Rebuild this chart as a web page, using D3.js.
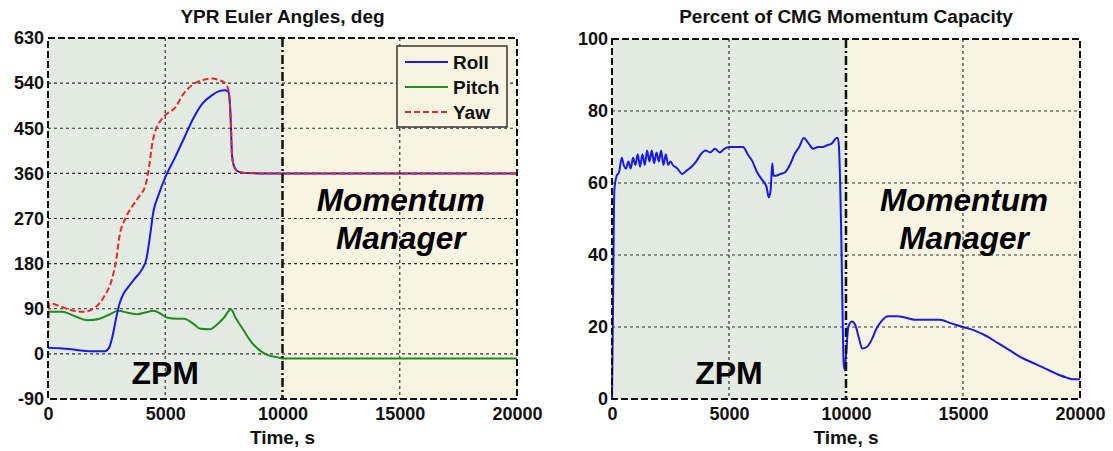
<!DOCTYPE html>
<html>
<head>
<meta charset="utf-8">
<script src="https://cdn.jsdelivr.net/npm/d3@7"></script>
<style>
  html, body { margin: 0; padding: 0; background: #ffffff; }
  svg { display: block; font-family: "Liberation Sans", Arial, sans-serif; }
</style>
</head>
<body>
<svg id="chart" width="1113" height="451"></svg>
<script>
// ---- Euler angle histories (deg) ----
const rollT  = [0,500,1000,1500,2000,2400,2600,2750,2900,3050,3200,3400,3700,4000,4200,4350,4500,4700,5000,5400,5800,6200,6600,7000,7300,7550,7700,7780,7850,7950,8100,8400,9000,10000,20000];
const rollV  = [12,11,9,6,5,5,12,35,70,100,118,132,150,168,190,235,285,315,352,390,430,470,500,516,524,526,522,480,395,372,364,361,360,360,360];

const yawT   = [0,60,150,500,1000,1500,2000,2400,2700,2900,3050,3300,3600,3900,4150,4300,4450,4600,4800,5000,5400,5800,6200,6600,7000,7300,7550,7700,7780,7850,7950,8100,8400,9000,10000,20000];
const yawV   = [35,100,100,95,87,84,92,115,145,185,235,270,295,315,335,370,420,448,465,476,490,520,538,546,549,546,540,525,480,395,372,364,361,360,360,360];

const pitchT = [0,600,1200,1700,2200,2600,3000,3400,3800,4200,4500,4800,5100,5500,5800,6200,6500,6900,7200,7500,7800,8000,8300,8600,9000,9400,9800,10000,20000];
const pitchV = [84,84,74,67,70,78,86,82,79,83,86,80,72,70,70,60,50,49,58,72,89,72,50,28,8,-3,-7,-9,-9];

// ---- CMG momentum capacity (%) ----
const capT = [0,50,100,200,300,420,500,600,700,800,900,1000,1100,1200,1300,1400,1500,1600,1700,1800,1900,2000,2100,2200,2300,2400,2500,2600,2800,3000,3200,3400,3600,3800,4000,4200,4400,4600,4800,5000,5200,5400,5600,5800,6000,6200,6400,6600,6700,6780,6850,6900,7000,7200,7400,7600,7800,8000,8200,8400,8600,8800,9000,9200,9400,9600,9650,9700,9750,9800,9850,9900,9950,10000,10100,10250,10400,10550,10700,10900,11100,11300,11500,11800,12200,13000,14000,14500,15000,15500,16000,16500,17000,17500,18000,18500,19000,19400,19700,20000];
const capV = [0,30,58,62,63,67,65,64,66,64,67,65,68,64.5,68,65,69,66,69,65.5,68.5,66,69,65,68,65,66,65,64,62.5,63.5,64.5,66,68,69,68.5,69.5,68.5,69.5,70,70,70,70,68,66,63,61,59,56,58,65.5,62,62,62.5,63,65,68,70,72.5,71,69.5,70,70,70.5,71,72.5,72.5,70,60,45,25,10,8,12,20,21.5,20.5,17,14,14.5,16.5,19.5,21.5,23,23,22,22,21,20,19,17.5,15.5,13.5,11.5,10,8.5,7,6,5.5,5.5];

// ---- axis ticks, regions, labels ----
const timeTicks  = [0,5000,10000,15000,20000];
const angleTicks = [-90,0,90,180,270,360,450,540,630];
const capTicks   = [0,20,40,60,80,100];
const phaseSplit = 10000;
const legendNames = ["Roll","Pitch","Yaw"];

const COLORS = { roll: "#1a1ae6", pitch: "#1f8c1f", yaw: "#e62828" };
const ZPM_FILL = "#e2eae2", MM_FILL = "#f8f4e2";

const svg = d3.select("#chart");
const plainNumber = d => String(d);   // ASCII hyphen for negatives

function panel(opts) {
  const { x0, x1, y0, y1, yDomain, yTicks, title } = opts;
  const g = svg.append("g");
  const x = d3.scaleLinear().domain([0, 20000]).range([x0, x1]);
  const y = d3.scaleLinear().domain(yDomain).range([y1, y0]);

  // phase backgrounds
  g.append("rect").attr("x", x(0)).attr("y", y0).attr("width", x(phaseSplit) - x(0)).attr("height", y1 - y0).attr("fill", ZPM_FILL);
  g.append("rect").attr("x", x(phaseSplit)).attr("y", y0).attr("width", x(20000) - x(phaseSplit)).attr("height", y1 - y0).attr("fill", MM_FILL);

  // dotted grid
  const grid = g.append("g").attr("stroke", "#333").attr("stroke-width", 1.2).attr("stroke-dasharray", "3,3");
  timeTicks.slice(1, -1).filter(t => t !== phaseSplit).forEach(t =>
    grid.append("line").attr("x1", x(t)).attr("x2", x(t)).attr("y1", y0).attr("y2", y1));
  yTicks.slice(1, -1).forEach(v =>
    grid.append("line").attr("x1", x0).attr("x2", x1).attr("y1", y(v)).attr("y2", y(v)));

  // axes with tick labels
  const xAxis = d3.axisBottom(x).tickValues(timeTicks).tickSize(0).tickPadding(8).tickFormat(plainNumber);
  const yAxis = d3.axisLeft(y).tickValues(yTicks).tickSize(0).tickPadding(4).tickFormat(plainNumber);
  const gx = g.append("g").attr("transform", `translate(0,${y1})`).call(xAxis);
  const gy = g.append("g").attr("transform", `translate(${x0},0)`).call(yAxis);
  [gx, gy].forEach(a => {
    a.select(".domain").remove();
    a.selectAll("text").attr("font-size", 18).attr("font-weight", "bold").attr("fill", "#111")
      .attr("font-family", "Liberation Sans, Arial, sans-serif");
  });

  // titles
  g.append("text").attr("x", (x0 + x1) / 2).attr("y", 23).attr("text-anchor", "middle")
    .attr("font-size", 19).attr("font-weight", "bold").attr("fill", "#111").text(title);
  g.append("text").attr("x", (x0 + x1) / 2).attr("y", 444).attr("text-anchor", "middle")
    .attr("font-size", 19).attr("font-weight", "bold").attr("fill", "#111").text("Time, s");

  // phase labels
  g.append("text").attr("x", x(5000)).attr("y", 384).attr("text-anchor", "middle")
    .attr("font-size", 32).attr("font-weight", "bold").attr("fill", "#000").text("ZPM");
  const mm = g.append("text").attr("text-anchor", "middle").attr("font-size", 31.5)
    .attr("font-weight", "bold").attr("font-style", "italic").attr("fill", "#000");
  mm.append("tspan").attr("x", x(15000) + 1).attr("y", 211).text("Momentum");
  mm.append("tspan").attr("x", x(15000) + 1).attr("y", 249).text("Manager");

  return { g, x, y, x0, x1, y0, y1 };
}

function frame(p) {
  const { g, x, x0, x1, y0, y1 } = p;
  // phase divider (dash-dot)
  g.append("line").attr("x1", x(phaseSplit)).attr("x2", x(phaseSplit)).attr("y1", y0).attr("y2", y1)
    .attr("stroke", "#111").attr("stroke-width", 2.5).attr("stroke-dasharray", "9,3,2,3");
  // dashed axes box
  g.append("rect").attr("x", x0).attr("y", y0).attr("width", x1 - x0).attr("height", y1 - y0)
    .attr("fill", "none").attr("stroke", "#111").attr("stroke-width", 2).attr("stroke-dasharray", "7,3");
}

function series(p, ts, vs, color, dash) {
  const line = d3.line().x(d => p.x(d[0])).y(d => p.y(d[1])).curve(d3.curveMonotoneX);
  p.g.append("path").datum(d3.zip(ts, vs)).attr("d", line).attr("fill", "none")
    .attr("stroke", color).attr("stroke-width", 2).attr("stroke-dasharray", dash || null)
    .attr("stroke-linejoin", "round");
}

// ---- left panel: Euler angles ----
const left = panel({ x0: 48, x1: 517, y0: 38, y1: 399, yDomain: [-90, 630], yTicks: angleTicks, title: "YPR Euler Angles, deg" });
series(left, pitchT, pitchV, COLORS.pitch);
series(left, rollT, rollV, COLORS.roll);
series(left, yawT, yawV, COLORS.yaw, "6,3");
frame(left);

// legend
const lg = left.g.append("g");
lg.append("rect").attr("x", 397).attr("y", 46).attr("width", 110).attr("height", 81)
  .attr("fill", MM_FILL).attr("stroke", "#333").attr("stroke-width", 1.5);
const legendColors = [COLORS.roll, COLORS.pitch, COLORS.yaw];
legendNames.forEach((name, i) => {
  const yy = 62 + i * 25;
  lg.append("line").attr("x1", 405).attr("x2", 448).attr("y1", yy).attr("y2", yy)
    .attr("stroke", legendColors[i]).attr("stroke-width", 2).attr("stroke-dasharray", i === 2 ? "6,3" : null);
  lg.append("text").attr("x", 453).attr("y", yy + 7).attr("font-size", 19).attr("font-weight", "bold")
    .attr("fill", "#111").text(name);
});

// ---- right panel: momentum capacity ----
const right = panel({ x0: 612, x1: 1080, y0: 39, y1: 399, yDomain: [0, 100], yTicks: capTicks, title: "Percent of CMG Momentum Capacity" });
series(right, capT, capV, COLORS.roll);
frame(right);
</script>
</body>
</html>
